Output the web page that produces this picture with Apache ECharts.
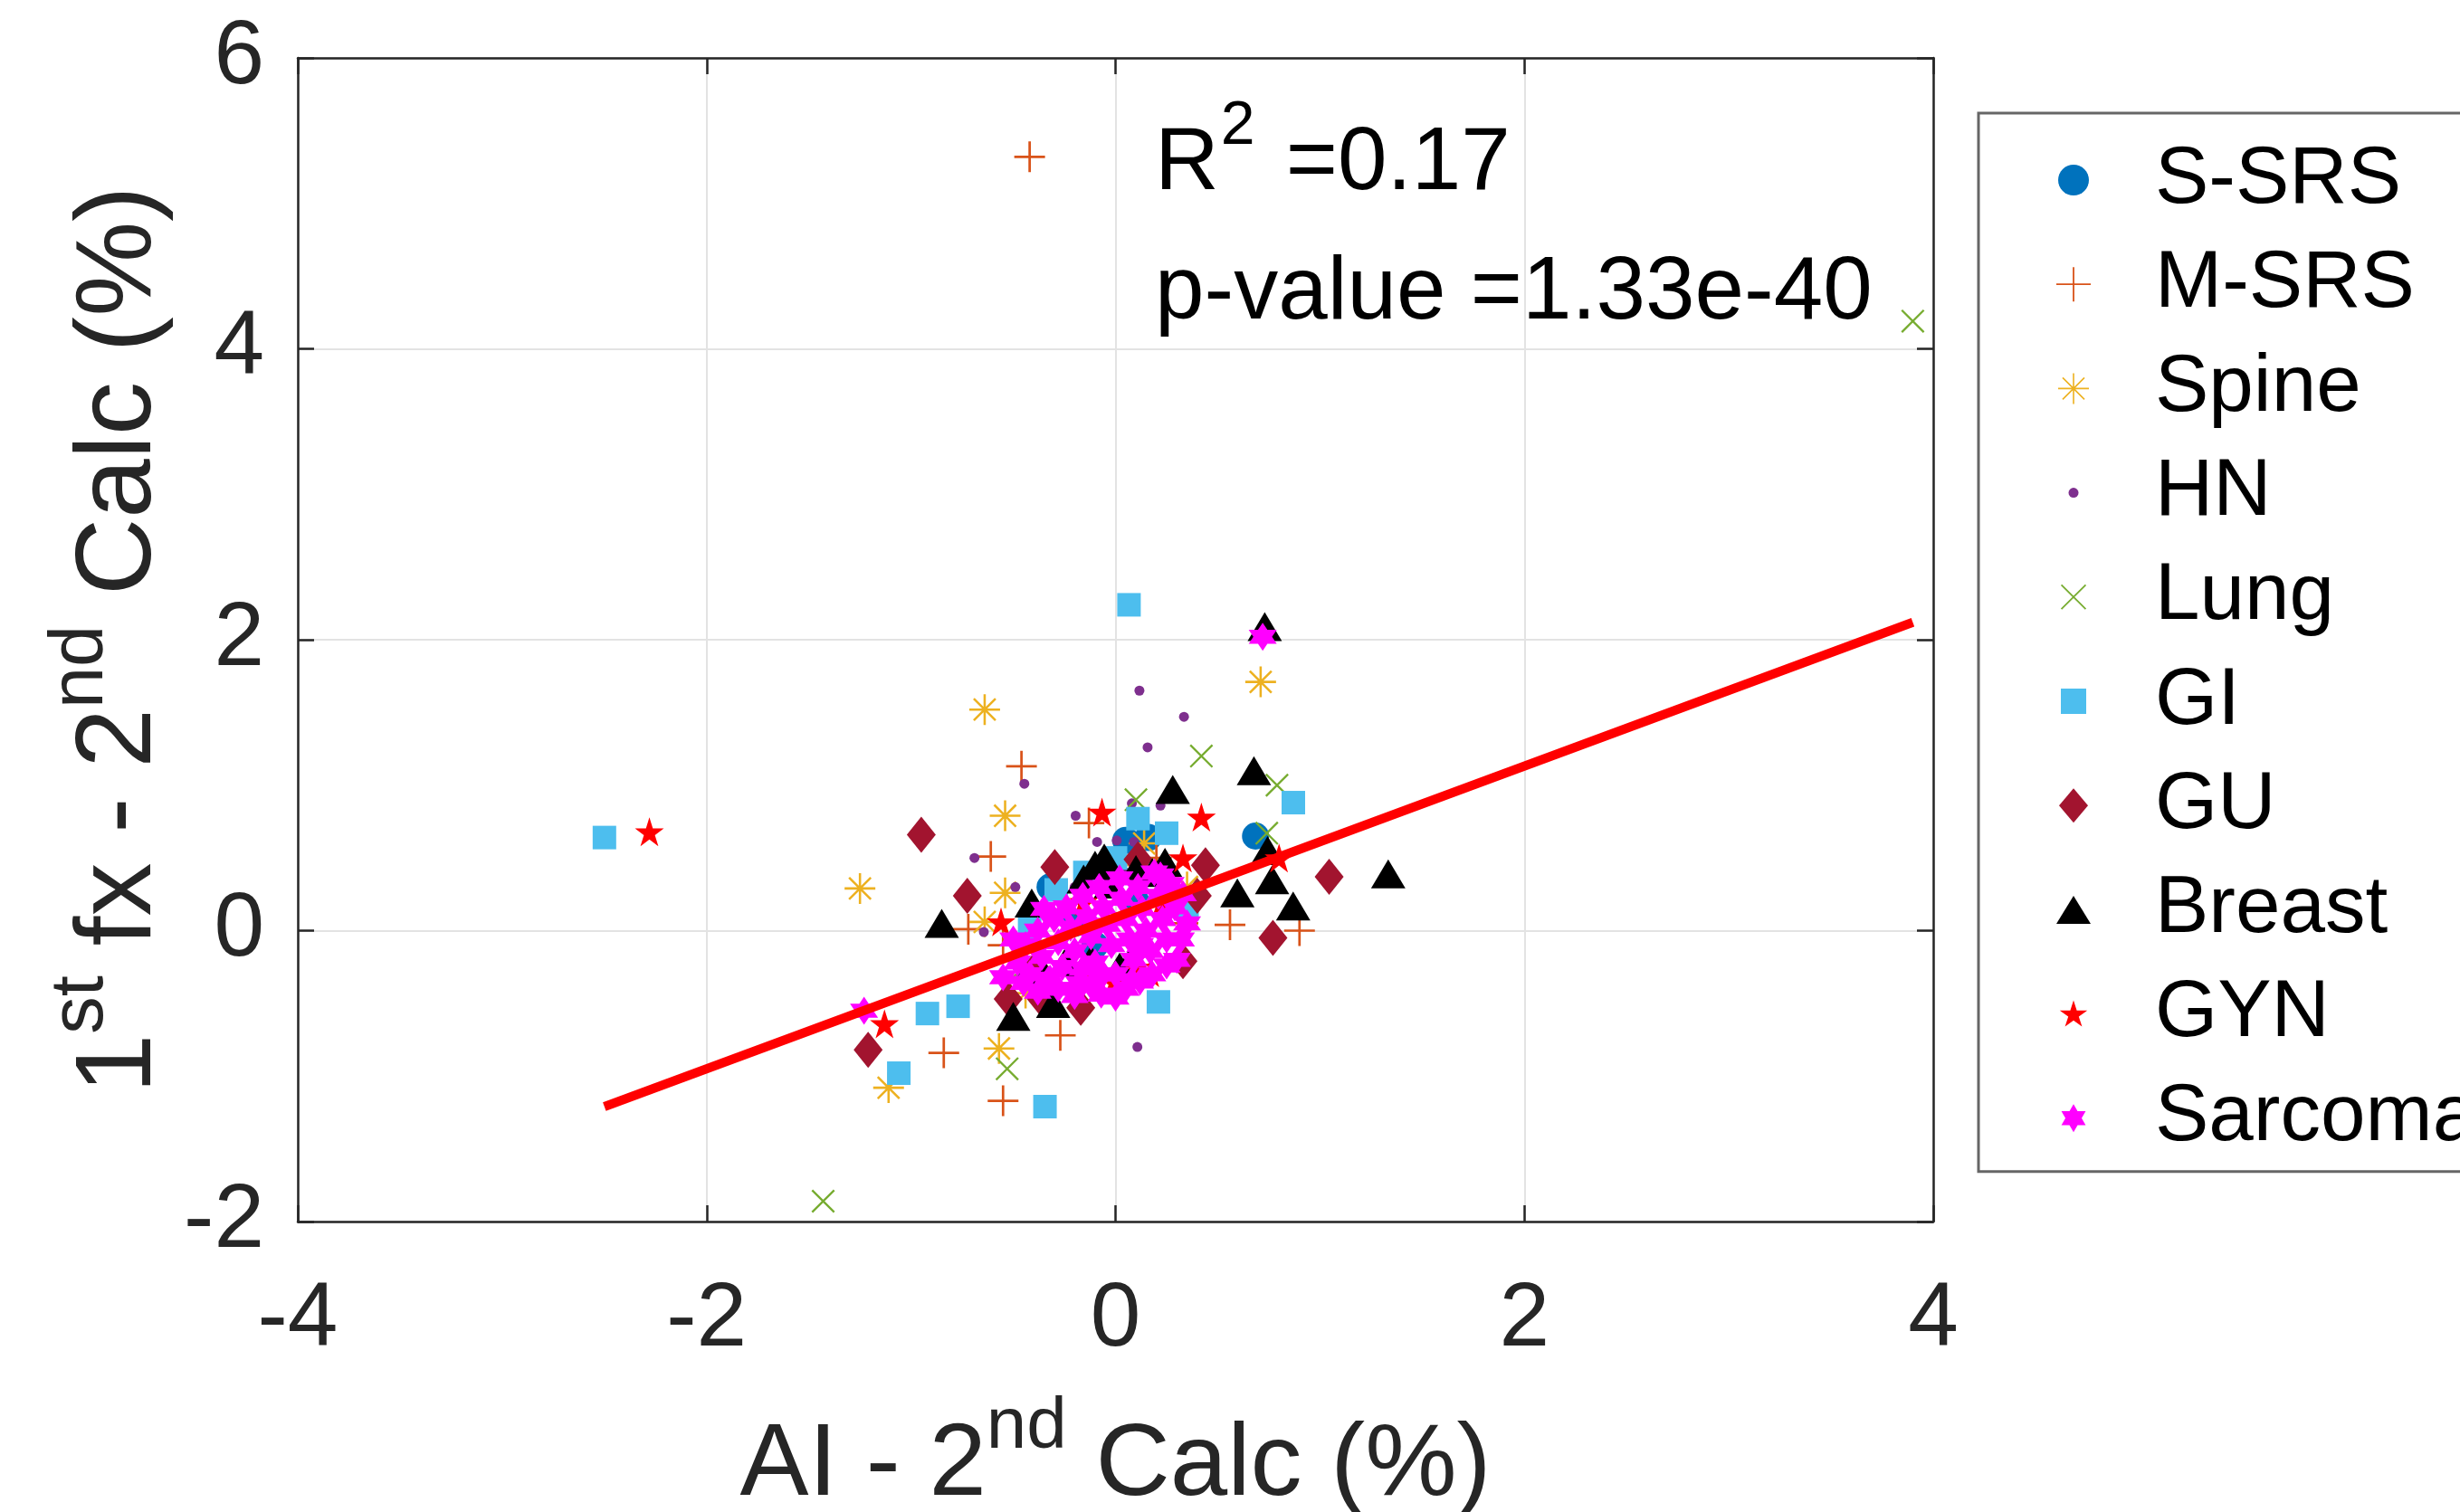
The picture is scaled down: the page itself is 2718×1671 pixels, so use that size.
<!DOCTYPE html>
<html><head><meta charset="utf-8">
<script src="https://cdn.jsdelivr.net/npm/echarts@6/dist/echarts.min.js"></script>
<style>html,body{margin:0;padding:0;background:#fff}#c{width:2718px;height:1671px}</style>
</head><body><div id="c"></div>
<script>
// ---------------- DATA ----------------
const categories = ['S-SRS','M-SRS','Spine','HN','Lung','GI','GU','Breast','GYN','Sarcoma'];
const xTicks = [-4,-2,0,2,4];
const yTicks = [-2,0,2,4,6];
const sSRS = [[0.685,0.65],[0.16,0.64],[-0.32,0.3],[0.05,0.62],[-0.2,0.05],[0.1,0.2],[-0.1,-0.1]];
const mSRS = [[-0.42,5.32],[-0.46,1.13],[-0.61,0.51],[-0.72,0.01],[-0.55,-0.1],[-0.27,-0.72],[-0.84,-0.84],[-0.55,-1.17],[0.56,0.04],[0.9,0.0],[0.33,0.05],[0.33,0.14],[-0.13,0.74],[0.2,0.5],[-0.05,0.3]];
const spine = [[-0.64,1.52],[0.71,1.71],[-0.54,0.79],[-1.25,0.29],[-0.54,0.26],[-0.64,0.06],[-0.57,-0.81],[-0.44,-0.43],[-1.11,-1.08],[0.14,0.6],[0.1,0.45],[0.35,0.3]];
const hn = [[0.117,1.65],[0.335,1.47],[0.157,1.26],[-0.446,1.01],[-0.195,0.79],[0.08,0.875],[0.22,0.86],[-0.09,0.61],[0.006,0.62],[0.09,0.61],[-0.69,0.5],[-0.49,0.3],[-0.644,-0.01],[-0.462,-0.32],[0.107,-0.8],[-0.2,0.3],[0.05,0.4]];
const lung = [[3.9,4.19],[0.42,1.2],[0.79,1.0],[0.1,0.9],[0.74,0.67],[-0.53,-0.95],[-1.43,-1.86],[-0.45,-0.25]];
const gi = [[0.066,2.24],[-2.5,0.64],[0.11,0.77],[0.25,0.67],[0.87,0.88],[0.21,-0.49],[-0.77,-0.52],[-0.92,-0.57],[-1.06,-0.98],[-0.345,-1.21],[-0.29,0.28],[-0.42,0.01],[0.0,0.5],[-0.15,0.4],[0.35,0.15]];
const gu = [[-0.95,0.66],[-0.297,0.437],[-0.725,0.24],[0.11,0.49],[0.44,0.45],[1.045,0.37],[0.77,-0.05],[0.33,-0.21],[-0.525,-0.47],[-0.17,-0.53],[-1.21,-0.82],[-0.363,-0.47],[-0.39,-0.26],[0.4,0.24]];
const breast = [[0.73,2.09],[0.677,1.1],[0.28,0.97],[-0.055,0.5],[-0.41,0.19],[-0.85,0.05],[0.596,0.26],[0.766,0.35],[0.869,0.17],[1.334,0.39],[-0.5,-0.59],[0.744,0.55],[-0.156,0.355],[-0.245,-0.215],[-0.305,-0.5],[0.08,-0.195],[-0.024,0.32],[0.242,0.47],[-0.12,-0.2],[0.02,-0.25],[-0.35,-0.3],[0.1,0.42],[-0.1,0.45],[0.18,0.4]];
const gyn = [[-2.28,0.68],[-0.066,0.815],[0.42,0.78],[0.33,0.5],[-0.56,0.06],[-1.13,-0.64],[-0.007,-0.35],[0.17,-0.29],[0.8,0.5],[-0.156,0.2],[0.226,0.2],[0.1,-0.25],[-0.1,-0.3]];
const sarcoma = [[-0.48,-0.22],[-0.44,-0.1],[-0.42,-0.3],[-0.38,0.0],[-0.36,-0.18],[-0.33,-0.34],[-0.3,0.08],[-0.28,-0.08],[-0.26,-0.25],[-0.24,0.16],[-0.22,0.02],[-0.2,-0.14],[-0.18,-0.36],[-0.16,0.24],[-0.14,0.1],[-0.12,-0.04],[-0.1,-0.22],[-0.08,0.3],[-0.06,0.16],[-0.04,0.04],[-0.02,-0.1],[0.0,-0.3],[0.02,0.36],[0.03,0.22],[0.05,0.08],[0.07,-0.06],[0.09,-0.2],[0.11,0.3],[0.13,0.15],[0.15,0.0],[0.17,-0.14],[0.19,0.4],[0.21,0.24],[0.23,0.08],[0.25,-0.06],[0.27,0.32],[0.29,0.16],[0.3,-0.2],[-0.07,-0.44],[-0.2,-0.45],[0.05,-0.4],[-0.55,-0.32],[-0.32,-0.33],[-1.23,-0.55],[0.72,2.02],[0.12,-0.35],[0.35,0.05],[-0.45,-0.36],[-0.38,-0.42],[-0.28,-0.4],[-0.12,-0.38],[0.0,-0.46],[0.08,-0.34],[0.18,-0.3],[0.25,-0.24],[0.32,-0.06],[0.33,0.25],[0.22,0.38],[-0.5,-0.06],[-0.35,0.15],[-0.06,-0.3],[0.12,-0.1],[-0.16,-0.26]];
const fitX = [-2.5, 3.9];
const fitY = [-1.21, 2.12];
const r2Text = '0.17';
const pText = '1.33e-40';

// ---------------- STYLE ----------------
const FONT = "'Liberation Sans', Arial, sans-serif";
const AX = '#262626';
const colors = ['#0072BD','#D95319','#EDB120','#7E2F8E','#77AC30','#4DBEEE','#A2142F','#000000','#FF0000','#FF00FF'];
function f(v){ return v.toFixed(2); }
function bar(cx, cy, len, th, ang){ // thin stroke drawn as a filled rectangle sub-path
  const a = ang*Math.PI/180, dx = Math.cos(a), dy = Math.sin(a), nx = -dy, ny = dx;
  const p = [[-len/2,-th/2],[len/2,-th/2],[len/2,th/2],[-len/2,th/2]].map(([u,v]) => [cx+dx*u+nx*v, cy+dy*u+ny*v]);
  return 'M' + p.map(q => f(q[0])+','+f(q[1])).join(' L') + ' Z ';
}
function star(cx, cy, ro, ri, n){
  let s = '';
  for (let i=0;i<2*n;i++){ const a = -Math.PI/2 + Math.PI*i/n, r = i%2 ? ri : ro; s += (i?'L':'M') + f(cx+r*Math.cos(a))+','+f(cy+r*Math.sin(a))+' '; }
  return s + 'Z ';
}
function poly(cx, cy, r, n){
  let s = '';
  for (let i=0;i<n;i++){ const a = 2*Math.PI*i/n; s += (i?'L':'M') + f(cx+r*Math.cos(a))+','+f(cy+r*Math.sin(a))+' '; }
  return s + 'Z ';
}
// plot marker paths (20 box)
const PLUS = 'path://' + bar(10,10,20,1.6,0) + bar(10,10,20,1.6,90);
const AST = 'path://' + bar(10,10,20,1.5,0) + bar(10,10,20,1.5,90) + bar(10,10,20,1.5,45) + bar(10,10,20,1.5,135);
const XMARK = 'path://' + bar(10,10,28.28,1.9,45) + bar(10,10,28.28,1.9,135);
const PENTA = 'path://' + star(10,10,10,3.82,5);
const HEXA = 'path://' + star(10,10,10,5.774,6);
// legend icons: each path spans the full 170x44 icon box, the visible shape sits at its centre
const C = 85, M = 22;
const BOX = 'path://M0,0 M170,44 ';
const icons = [
  BOX + poly(C,M,17,32),
  BOX + bar(C,M,38,1.8,0) + bar(C,M,38,1.8,90),
  BOX + bar(C,M,34,1.6,0) + bar(C,M,34,1.6,90) + bar(C,M,34,1.6,45) + bar(C,M,34,1.6,135),
  BOX + poly(C,M,5.5,16),
  BOX + bar(C,M,38,1.8,45) + bar(C,M,38,1.8,135),
  BOX + `M${C-14},8 L${C+14},8 L${C+14},36 L${C-14},36 Z`,
  BOX + `M${C},3 L${C+16},22 L${C},41 L${C-16},22 Z`,
  BOX + `M${C},6.5 L${C+19},37.5 L${C-19},37.5 Z`,
  BOX + star(C,23,16,6.1,5),
  BOX + star(C,M,15.5,8.95,6)
];

const seriesData = [sSRS, mSRS, spine, hn, lung, gi, gu, breast, gyn, sarcoma];
const symbols = ['circle', PLUS, AST, 'circle', XMARK, 'rect', 'diamond', 'triangle', PENTA, HEXA];
const sizes = [30, 34, 34, 11, 26, 26, [32,40], [38,32], 32, 31];

const series = categories.map((name, i) => ({
  name, type: 'scatter', data: seriesData[i], symbol: symbols[i], symbolSize: sizes[i],
  itemStyle: { color: colors[i], opacity: 1 }, emphasis: { disabled: true }, z: 2
}));
series.push({
  type: 'line', data: fitX.map((x, i) => [x, fitY[i]]), symbol: 'none',
  lineStyle: { color: '#FF0000', width: 10 }, z: 5, emphasis: { disabled: true }
});

// superscript: token box height (not lineHeight) decides how high a 'top'-aligned token sits
function nameRich(size, lh, supH){
  return {
    a: { fontSize: size, fontFamily: FONT, color: AX, lineHeight: lh },
    s: { fontSize: Math.round(size*0.7), fontFamily: FONT, color: AX, lineHeight: lh, height: supH, verticalAlign: 'top' }
  };
}
const lineStyleAx = { color: AX, width: 2.5 };

const chart = echarts.init(document.getElementById('c'), null, { renderer: 'canvas' });
chart.setOption({
  animation: false,
  backgroundColor: '#fff',
  grid: { left: 329, top: 64, width: 1807, height: 1286, containLabel: false, outerBoundsMode: 'none' },
  xAxis: [{
    type: 'value', min: xTicks[0], max: xTicks[xTicks.length-1], interval: 2, position: 'bottom',
    axisLine: { show: true, onZero: false, lineStyle: lineStyleAx },
    axisTick: { show: true, inside: true, length: 18, lineStyle: lineStyleAx },
    axisLabel: { fontSize: 100, fontFamily: FONT, color: AX, margin: 59, lineHeight: 100 },
    splitLine: { show: true, lineStyle: { color: '#e3e3e3', width: 2 } },
    name: '{a|AI - 2}{s|nd}{a| Calc (%)}', nameLocation: 'middle', nameGap: 221,
    nameTextStyle: { rich: nameRich(114, 100, 14) }
  }, {
    type: 'value', min: xTicks[0], max: xTicks[xTicks.length-1], interval: 2, position: 'top',
    axisLine: { show: true, onZero: false, lineStyle: lineStyleAx },
    axisTick: { show: true, inside: true, length: 18, lineStyle: lineStyleAx },
    axisLabel: { show: false }, splitLine: { show: false }
  }],
  yAxis: [{
    type: 'value', min: yTicks[0], max: yTicks[yTicks.length-1], interval: 2, position: 'left',
    axisLine: { show: true, onZero: false, lineStyle: lineStyleAx },
    axisTick: { show: true, inside: true, length: 18, lineStyle: lineStyleAx },
    axisLabel: { fontSize: 100, fontFamily: FONT, color: AX, margin: 37 },
    splitLine: { show: true, lineStyle: { color: '#e3e3e3', width: 2 } },
    name: '{a|1}{s|st}{a| fx - 2}{s|nd}{a| Calc (%)}', nameLocation: 'middle', nameGap: 127,
    nameTextStyle: { rich: nameRich(118, 130, 44) }
  }, {
    type: 'value', min: yTicks[0], max: yTicks[yTicks.length-1], interval: 2, position: 'right',
    axisLine: { show: true, onZero: false, lineStyle: lineStyleAx },
    axisTick: { show: true, inside: true, length: 18, lineStyle: lineStyleAx },
    axisLabel: { show: false }, splitLine: { show: false }
  }],
  legend: {
    orient: 'vertical', left: 2186, top: 125, selectedMode: false,
    padding: [24, 40, 9, 20], itemGap: 15.2, itemWidth: 170, itemHeight: 44,
    textStyle: { fontSize: 89, fontFamily: FONT, color: '#000', lineHeight: 100 },
    borderColor: '#666', borderWidth: 3, backgroundColor: '#fff',
    data: categories.map((n, i) => ({ name: n, icon: icons[i] }))
  },
  graphic: [{
    type: 'text', x: 1276, y: 122, z: 10,
    style: {
      text: '{a|R}{s|2}{a| =' + r2Text + '}', verticalAlign: 'top', align: 'left',
      rich: {
        a: { fontSize: 98, fontFamily: FONT, fill: '#000', lineHeight: 120 },
        s: { fontSize: 68, fontFamily: FONT, fill: '#000', lineHeight: 120, height: 36, verticalAlign: 'top', padding: [0, 7, 0, 2] }
      }
    }
  }, {
    type: 'text', x: 1276, y: 325, z: 10,
    style: { text: 'p-value =' + pText, fontSize: 98, fontFamily: FONT, fill: '#000', verticalAlign: 'middle', align: 'left' }
  }],
  series
});
</script>
</body></html>
